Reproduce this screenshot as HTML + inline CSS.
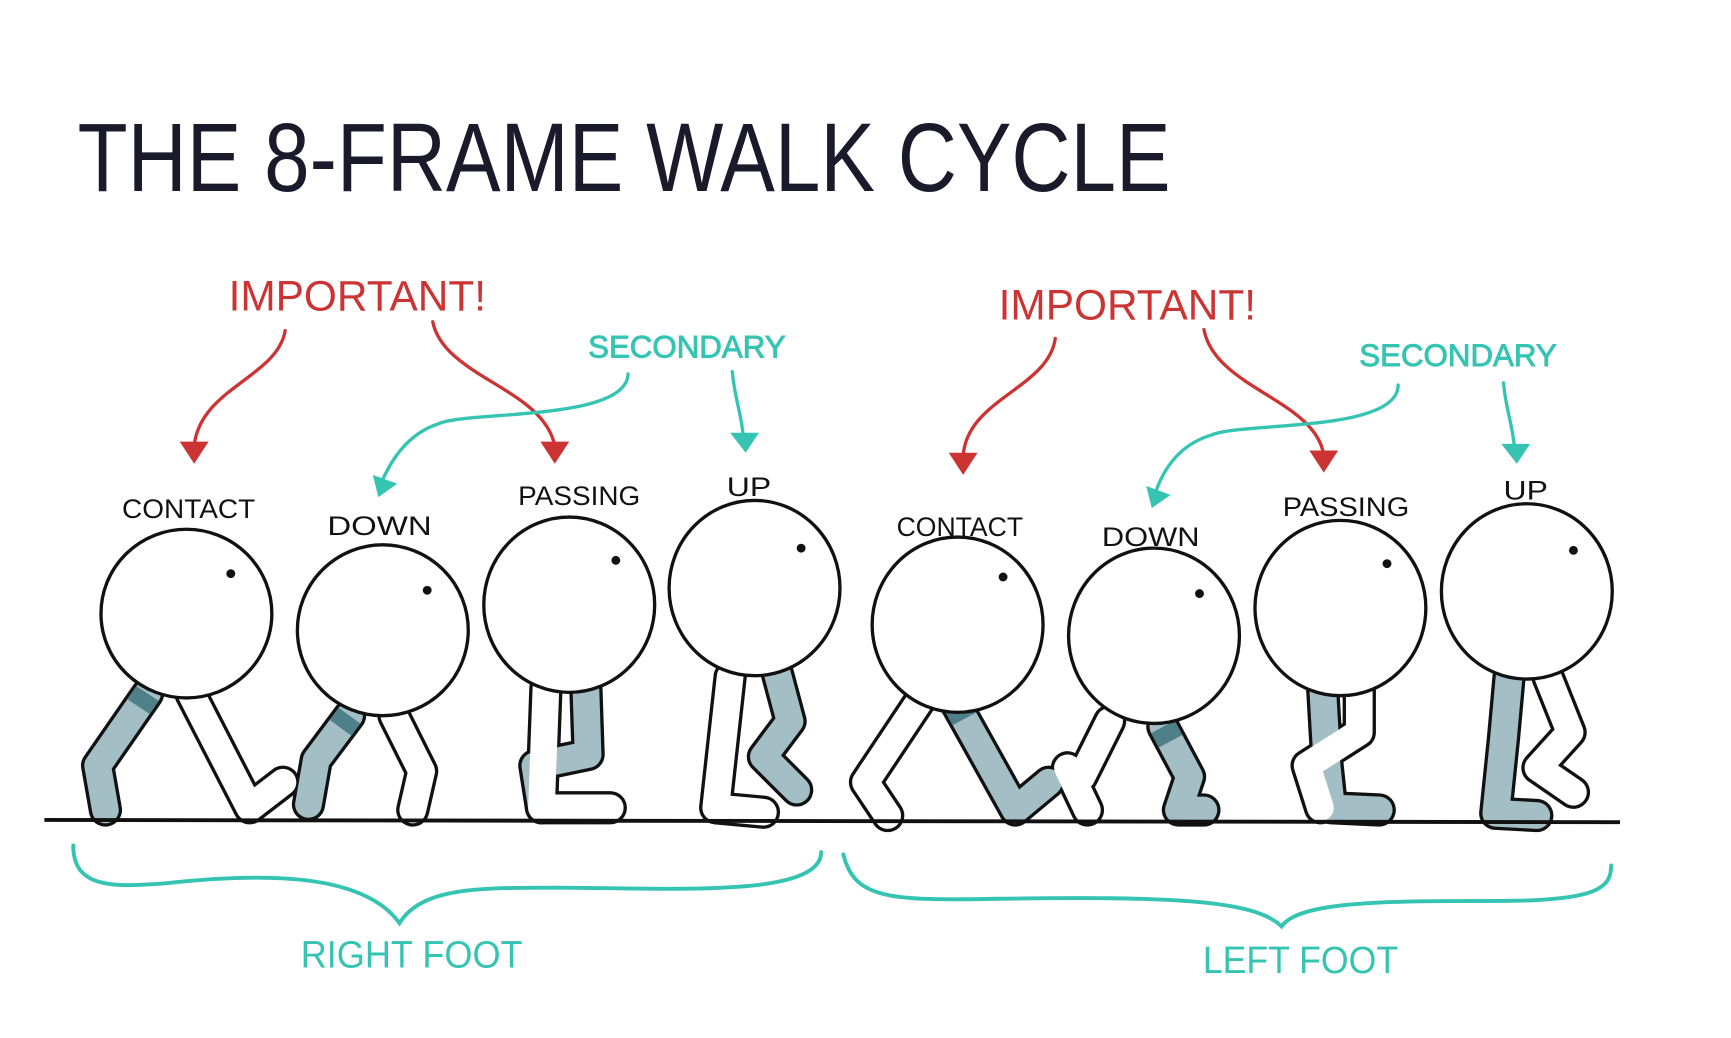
<!DOCTYPE html>
<html><head><meta charset="utf-8"><style>
html,body{margin:0;padding:0;background:#fff;}
svg{display:block;}
text{font-family:"Liberation Sans",sans-serif;}
</style></head><body>
<svg width="1731" height="1038" viewBox="0 0 1560 935.5" preserveAspectRatio="none" xmlns="http://www.w3.org/2000/svg">
<!-- Title -->
<text x="70" y="172" font-size="88" fill="#1a1a2a" textLength="985" lengthAdjust="spacingAndGlyphs">THE 8-FRAME WALK CYCLE</text>

<text x="206" y="280" font-size="38" fill="#cc3333" textLength="232" lengthAdjust="spacingAndGlyphs">IMPORTANT!</text>
<text x="900" y="288" font-size="38" fill="#cc3333" textLength="232" lengthAdjust="spacingAndGlyphs">IMPORTANT!</text>
<text x="530" y="322" font-size="28" fill="#35c4b2" textLength="178" lengthAdjust="spacingAndGlyphs" stroke="#35c4b2" stroke-width="0.8">SECONDARY</text>
<text x="1225" y="330" font-size="28" fill="#35c4b2" textLength="178" lengthAdjust="spacingAndGlyphs" stroke="#35c4b2" stroke-width="0.8">SECONDARY</text>

<g fill="none" stroke-width="3" stroke-linecap="round">
<path d="M257 298 C250 340 180 350 175 402" stroke="#cc3333"/>
<path d="M390 290 C400 340 490 350 500 402" stroke="#cc3333"/>
<path d="M951 305 C945 350 870 360 868 412" stroke="#cc3333"/>
<path d="M1085 297 C1095 350 1185 360 1193 410" stroke="#cc3333"/>
<path d="M566 337 C565 380 420 370 395 382 C370 390 355 410 345 432" stroke="#35c4b2"/>
<path d="M660 335 C662 360 668 370 670 395" stroke="#35c4b2"/>
<path d="M1260 347 C1260 390 1120 380 1092 392 C1065 400 1050 420 1042 442" stroke="#35c4b2"/>
<path d="M1355 345 C1357 370 1363 380 1365 405" stroke="#35c4b2"/>
</g>
<g stroke="none">
<polygon points="162,398 188,398 175,418" fill="#cc3333"/>
<polygon points="487,398 513,398 500,418" fill="#cc3333"/>
<polygon points="855,408 881,408 868,428" fill="#cc3333"/>
<polygon points="1180,406 1206,406 1193,426" fill="#cc3333"/>
<polygon points="336,428 358,436 341,448" fill="#35c4b2"/>
<polygon points="658,390 684,390 672,408" fill="#35c4b2"/>
<polygon points="1033,438 1055,446 1038,458" fill="#35c4b2"/>
<polygon points="1353,400 1379,400 1367,418" fill="#35c4b2"/>
</g>

<g font-size="24" fill="#111">
<text x="110" y="467" textLength="120" lengthAdjust="spacingAndGlyphs">CONTACT</text>
<text x="295" y="482" textLength="94" lengthAdjust="spacingAndGlyphs">DOWN</text>
<text x="467" y="455" textLength="110" lengthAdjust="spacingAndGlyphs">PASSING</text>
<text x="655" y="447" textLength="40" lengthAdjust="spacingAndGlyphs">UP</text>
<text x="808" y="483" textLength="114" lengthAdjust="spacingAndGlyphs">CONTACT</text>
<text x="993" y="492" textLength="88" lengthAdjust="spacingAndGlyphs">DOWN</text>
<text x="1156" y="465" textLength="114" lengthAdjust="spacingAndGlyphs">PASSING</text>
<text x="1355" y="450" textLength="40" lengthAdjust="spacingAndGlyphs">UP</text>
</g>

<g fill="none" stroke-linejoin="round" stroke-linecap="round">
<g stroke="#111" stroke-width="30">
<polyline points="133,625 88,690 95,730"/>
<polyline points="172,625 225,728 255,705"/>
<polyline points="315,645 285,685 278,725"/>
<polyline points="355,645 380,695 372,730"/>
<polyline points="492,620 488,728 550,728"/>
<polyline points="528,620 530,680 482,690 488,728"/>
<polyline points="700,605 712,650 688,682 718,712"/>
<polyline points="658,610 645,728 688,732"/>
<polyline points="862,635 915,730 945,705"/>
<polyline points="830,630 780,705 800,735"/>
<polyline points="1048,655 1072,700 1062,730 1085,730"/>
<polyline points="1000,650 975,700 962,692 980,730"/>
<polyline points="1192,620 1196,690 1200,728 1243,730"/>
<polyline points="1225,620 1225,660 1178,690 1190,728"/>
<polyline points="1360,610 1355,665 1348,733 1385,735"/>
<polyline points="1395,610 1415,660 1386,692 1418,714"/>
</g>
<g stroke="#a3bec4" stroke-width="24">
<polyline points="133,625 88,690 95,730"/>
<polyline points="315,645 285,685 278,725"/>
<polyline points="528,620 530,680 482,690 488,728"/>
<polyline points="700,605 712,650 688,682 718,712"/>
<polyline points="862,635 915,730 945,705"/>
<polyline points="1048,655 1072,700 1062,730 1085,730"/>
<polyline points="1192,620 1196,690 1200,728 1243,730"/>
<polyline points="1360,610 1355,665 1348,733 1385,735"/>
</g>
<g stroke="#4f7f88" stroke-width="24" stroke-linecap="butt">
<line x1="133" y1="625" x2="125" y2="637"/>
<line x1="315" y1="645" x2="307" y2="656"/>
<line x1="862" y1="635" x2="869" y2="648"/>
<line x1="1048" y1="655" x2="1055" y2="668"/>
</g>
<g stroke="#fff" stroke-width="24">
<polyline points="172,625 225,728 255,705"/>
<polyline points="355,645 380,695 372,730"/>
<polyline points="492,620 488,728 550,728"/>
<polyline points="658,610 645,728 688,732"/>
<polyline points="830,630 780,705 800,735"/>
<polyline points="1000,650 975,700 962,692 980,730"/>
<polyline points="1225,620 1225,660 1178,690 1190,728"/>
<polyline points="1395,610 1415,660 1386,692 1418,714"/>
</g>
</g>

<g fill="#fff" stroke="#111" stroke-width="3">
<ellipse cx="168" cy="553" rx="77" ry="76"/>
<ellipse cx="345" cy="568" rx="77" ry="77"/>
<ellipse cx="513" cy="545" rx="77" ry="79"/>
<ellipse cx="680" cy="530" rx="77" ry="79"/>
<ellipse cx="863" cy="563" rx="77" ry="79"/>
<ellipse cx="1040" cy="573" rx="77" ry="79"/>
<ellipse cx="1208" cy="548" rx="77" ry="79"/>
<ellipse cx="1376" cy="533" rx="77" ry="79"/>
</g>
<g fill="#111">
<circle cx="208" cy="517" r="4"/><circle cx="385" cy="532" r="4"/>
<circle cx="555" cy="505" r="4"/><circle cx="722" cy="494" r="4"/>
<circle cx="904" cy="520" r="4"/><circle cx="1081" cy="535" r="4"/>
<circle cx="1250" cy="508" r="4"/><circle cx="1418" cy="496" r="4"/>
</g>

<path d="M40 739 L1460 741" stroke="#111" stroke-width="3.5" fill="none"/>

<g fill="none" stroke="#35c4b2" stroke-width="3.5" stroke-linecap="round">
<path d="M66 762 C66 800 100 800 150 796 C250 785 330 790 360 832 C380 800 430 800 500 800 C600 800 740 810 740 768"/>
<path d="M760 770 C770 810 800 812 900 810 C1050 808 1130 810 1155 835 C1170 812 1250 812 1350 812 C1440 812 1452 800 1452 780"/>
</g>
<text x="271" y="872" font-size="34" fill="#35c4b2" textLength="200" lengthAdjust="spacingAndGlyphs">RIGHT FOOT</text>
<text x="1084" y="877" font-size="34" fill="#35c4b2" textLength="176" lengthAdjust="spacingAndGlyphs">LEFT FOOT</text>
</svg>
</body></html>
